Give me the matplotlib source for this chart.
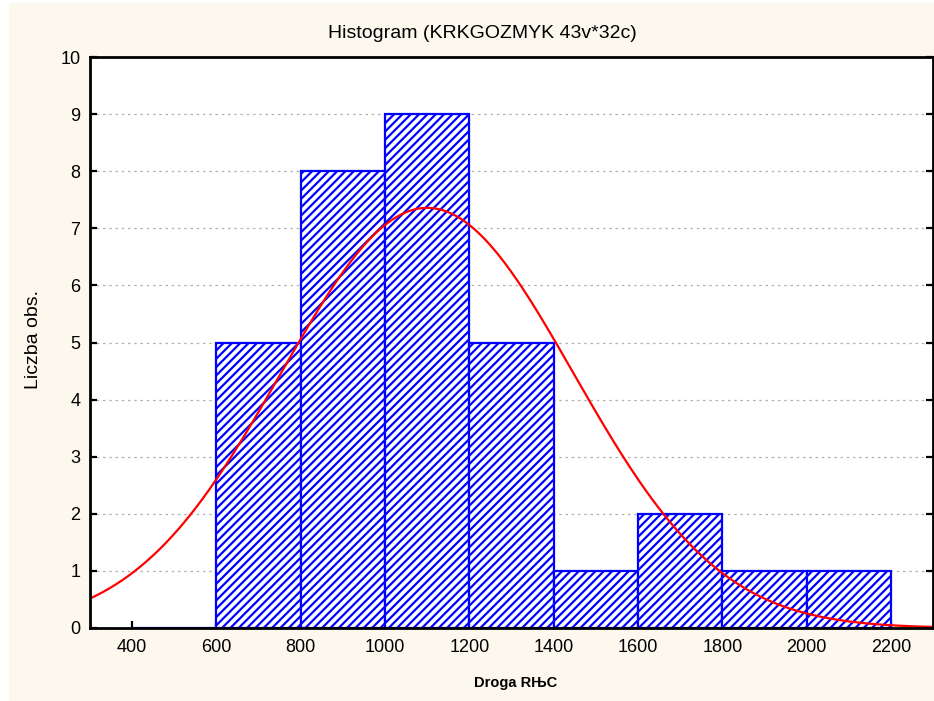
import numpy as np
import matplotlib
matplotlib.use("Agg")
import matplotlib.pyplot as plt
from matplotlib.patches import Rectangle

# ---- data ----
bin_edges = [400, 600, 800, 1000, 1200, 1400, 1600, 1800, 2000, 2200]
counts = [0, 5, 8, 9, 5, 1, 2, 1, 1]
n_obs = 32
fit_mean = 1100.0   # fitted normal curve: peak position
fit_sd = 347.0      # fitted normal curve spread
x_ticks = [400, 600, 800, 1000, 1200, 1400, 1600, 1800, 2000, 2200]
y_ticks = list(range(0, 11))
title = "Histogram (KRKGOZMYK 43v*32c)"
xlabel = "Droga RЊC"
ylabel = "Liczba obs."

plt.rcParams['font.family'] = ['Liberation Sans', 'DejaVu Sans']
plt.rcParams['hatch.color'] = '#0000ff'
plt.rcParams['hatch.linewidth'] = 1.6

cream = '#fdf8ee'
fig = plt.figure(figsize=(9.34, 7.01), dpi=100)
fig.patch.set_facecolor('white')
fig.patches.append(Rectangle((9/934, 0), 1, 1 - 3/701, transform=fig.transFigure,
                             facecolor=cream, edgecolor='none', zorder=-10))

ax = fig.add_axes([90/934, 1 - 628/701, 843/934, (628 - 57)/701])
ax.set_facecolor('white')

widths = np.diff(bin_edges)
ax.bar(bin_edges[:-1], counts, width=widths, align='edge', color='white',
       edgecolor='#0000ff', linewidth=1.6, hatch='////', zorder=2)

bw = widths[0]
xs = np.linspace(300, 2300, 400)
ys = n_obs * bw / (fit_sd * np.sqrt(2 * np.pi)) * np.exp(-0.5 * ((xs - fit_mean) / fit_sd) ** 2)
ax.plot(xs, ys, color='#ff0000', linewidth=1.6, zorder=3)

ax.set_xlim(300, 2300)
ax.set_ylim(0, 10)
ax.set_xticks(x_ticks)
ax.set_yticks(y_ticks)
ax.yaxis.grid(True, linestyle=(0, (2, 3)), color='#b0b0b0', linewidth=0.9, zorder=0)
ax.set_axisbelow(True)
ax.tick_params(axis='both', direction='in', length=5, width=1.6, labelsize=13, color='black')
ax.tick_params(axis='y', right=True, pad=7)
ax.tick_params(axis='x', pad=8)
for s in ax.spines.values():
    s.set_linewidth(2.0)
    s.set_zorder(5)

fig.text(482/934, 1 - 33/701, title, ha='center', va='center', fontsize=14)
fig.text(516/934, 1 - 683/701, xlabel, ha='center', va='center', fontsize=10.5, fontweight='bold')
fig.text(33/934, 1 - 339/701, ylabel, ha='center', va='center', fontsize=14, rotation=90)

fig.savefig('out.png', dpi=100, facecolor=fig.get_facecolor())
